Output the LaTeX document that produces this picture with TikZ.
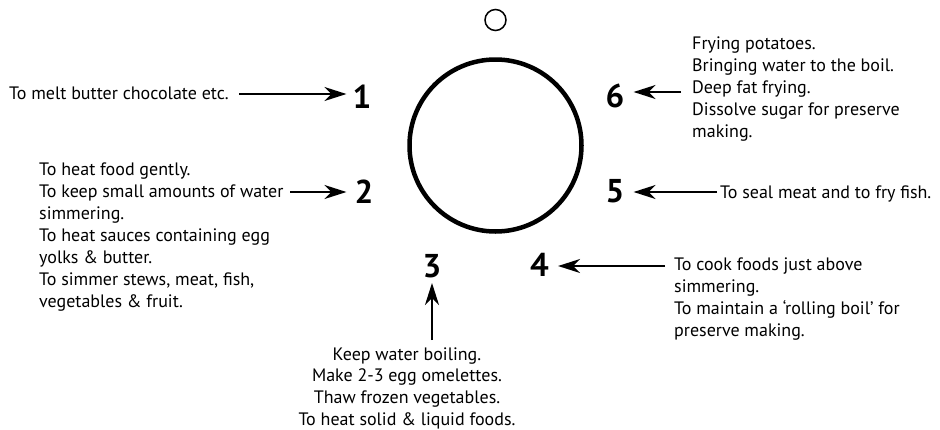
\documentclass[tikz,border=0pt]{standalone}
\usepackage{fontspec}
\setmainfont{PT Sans}
\usetikzlibrary{arrows.meta}
\tikzset{
  body/.style={inner sep=0pt, font=\fontsize{18}{22}\selectfont},
  bodyc/.style={inner sep=0pt, font=\fontsize{18}{21.7}\selectfont},
  num/.style={inner sep=0pt, font=\fontsize{33}{35}\selectfont\bfseries},
  arr/.style={line width=2pt, -{Stealth[length=22pt,width=14pt,inset=7pt]}},
  dial/.style={line width=4.5pt},
  knob/.style={line width=1.5pt}
}
\newcommand{\linesL}[1]{\begin{tabular}[t]{@{}l@{}}#1\end{tabular}}
\newcommand{\linesC}[1]{\begin{tabular}[t]{@{}c@{}}#1\end{tabular}}
\begin{document}
\begin{tikzpicture}[x=1pt,y=-1pt]
\useasboundingbox (0,0) rectangle (940,429);
% dial
\node[draw, circle, dial, minimum size=172pt, inner sep=0pt] (dial) at (495.5,145.5) {};
\node[draw, circle, knob, minimum size=21pt, inner sep=0pt] (mark) at (495.5,20) {};
% numbers
\node[num] (n1) at (362,96.5) {1};
\node[num] (n2) at (364,191.5) {2};
\node[num] (n3) at (432,266) {3};
\node[num] (n4) at (539.5,265) {4};
\node[num] (n5) at (615,191) {5};
\node[num] (n6) at (615,96) {6};
% texts
\node[body, anchor=base west] (t1) at (9,99) {\linesL{To melt butter chocolate etc.}};
\node[body, anchor=base west] (t2) at (39,175) {\linesL{To heat food gently.\\To keep small amounts of water\\simmering.\\To heat sauces containing egg\\yolks \& butter.\\To simmer stews, meat, fish,\\vegetables \& fruit.}};
\node[bodyc, anchor=base] (t3) at (407,360) {\linesC{Keep water boiling.\\Make 2-3 egg omelettes.\\Thaw frozen vegetables.\\To heat solid \& liquid foods.}};
\node[body, anchor=base west] (t4) at (674,270) {\linesL{To cook foods just above\\simmering.\\To maintain a ‘rolling boil’ for\\preserve making.}};
\node[body, anchor=base west] (t5) at (720,198) {\linesL{To seal meat and to fry fish.}};
\node[body, anchor=base west] (t6) at (692,49) {\linesL{Frying potatoes.\\Bringing water to the boil.\\Deep fat frying.\\Dissolve sugar for preserve\\making.}};
% arrow tails
\coordinate (a1) at (239,94);
\coordinate (a2) at (290,192);
\coordinate (a3) at (432,340);
\coordinate (a4) at (665,266);
\coordinate (a5) at (717,192);
\coordinate (a6) at (681,92);
% arrows
\draw[arr, shorten >=6pt] (a1) -- (a1 -| n1.west);
\draw[arr, shorten >=8pt] (a2) -- (a2 -| n2.west);
\draw[arr, shorten >=5pt] (a3) -- (a3 |- n3.south);
\draw[arr, shorten >=9pt] (a4) -- (a4 -| n4.east);
\draw[arr, shorten >=9pt] (a5) -- (a5 -| n5.east);
\draw[arr, shorten >=9pt] (a6) -- (a6 -| n6.east);
\end{tikzpicture}
\end{document}
